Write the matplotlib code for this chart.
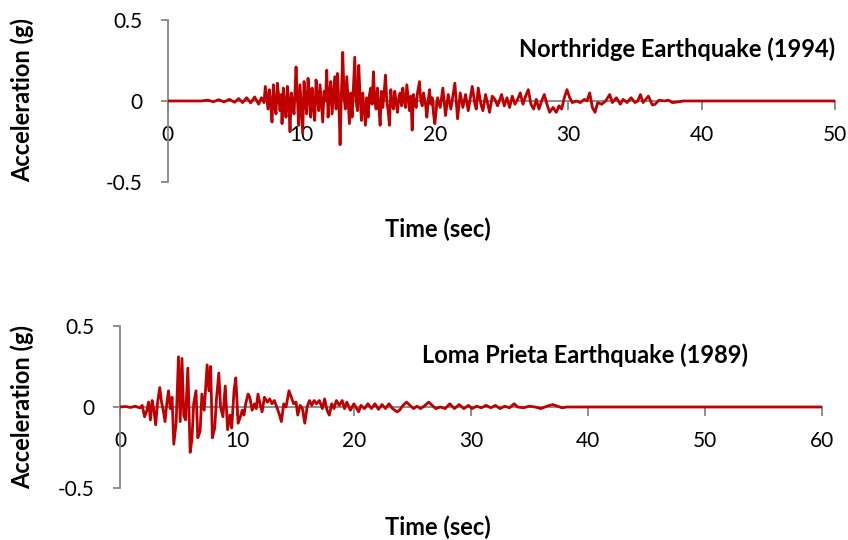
import matplotlib

matplotlib.use("Agg")
import matplotlib.pyplot as plt

plt.rcParams["font.family"] = ["Lato", "DejaVu Sans"]

# Northridge Earthquake (1994) - time (sec) and acceleration (g)
nr_time = [
    0, 2.5, 3.0, 3.4, 3.8, 4.2, 4.6, 5.0, 5.3, 5.6,
    5.9, 6.2, 6.5, 6.8, 7.0,
    # strong shaking
    7.2, 7.3, 7.4, 7.5, 7.6, 7.7, 7.8, 7.9, 8.0, 8.1,
    8.2, 8.3, 8.4, 8.5, 8.55, 8.65, 8.75, 8.85, 8.95, 9.05,
    9.15, 9.25, 9.35, 9.45, 9.6, 9.7, 9.8, 9.9, 10.0, 10.1,
    10.2, 10.3, 10.4, 10.5, 10.6, 10.7, 10.8, 10.9, 11.0, 11.1,
    11.2, 11.3, 11.4, 11.5, 11.6, 11.7, 11.8, 11.9, 12.0, 12.1,
    12.2, 12.3, 12.4, 12.5, 12.6, 12.7, 12.8, 12.9, 13.0, 13.1,
    13.2, 13.3, 13.4, 13.5, 13.6, 13.7, 13.8, 13.9, 14.0, 14.1,
    14.2, 14.3, 14.4, 14.5, 14.6, 14.7, 14.8, 14.9, 15.0, 15.1,
    15.2, 15.3, 15.4, 15.5, 15.6, 15.7, 15.8, 15.9, 16.0, 16.1,
    16.2, 16.3, 16.4, 16.5, 16.6, 16.7, 16.8, 16.9, 17.0, 17.1,
    17.2, 17.3, 17.4, 17.5, 17.6, 17.7, 17.8, 17.9, 18.0, 18.1,
    18.2, 18.3, 18.4, 18.5, 18.6, 18.7, 18.85, 18.95, 19.05, 19.15,
    19.3, 19.4, 19.5, 19.6, 19.7, 19.8, 19.9, 20.0,
    # coda
    20.2, 20.4, 20.6, 20.8, 21.0, 21.2, 21.5, 21.7, 21.9, 22.1, 22.3, 22.5,
    22.8, 23.0, 23.1, 23.25, 23.45, 23.6, 23.8, 24.1, 24.3, 24.5, 24.7, 25.0,
    25.2, 25.4, 25.6, 25.8, 26.0, 26.2, 26.4, 26.6, 26.8, 27.0, 27.2, 27.4,
    27.6, 27.8, 28.0, 28.2, 28.4, 28.6, 28.85, 29.1, 29.3, 29.5, 29.7, 29.9,
    30.1, 30.3, 30.6, 30.9, 31.2, 31.4, 31.6, 31.8, 32.0, 32.2, 32.5, 32.8,
    33.1, 33.3, 33.6, 33.9, 34.1, 34.4, 34.7, 35.0, 35.2, 35.4, 35.6, 36.0,
    36.3, 36.5, 36.8, 37.2, 37.5, 37.8, 38.3, 38.6, 50,
]
nr_accel = [
    0, 0, 0.005, -0.005, 0.008, -0.006, 0.01, -0.008, 0.015, -0.01,
    0.02, -0.012, 0.025, -0.02, 0.02,
    -0.01, 0.09, 0.02, -0.05, 0.07, -0.02, -0.13, 0.1, -0.03, -0.08,
    0.11, 0.03, -0.06, 0.04, -0.14, 0.08, -0.03, -0.1, 0.09, 0.0,
    -0.19, 0.05, -0.02, -0.08, 0.21, 0.02, -0.15, 0.1, -0.05, -0.2,
    0.12, 0.0, -0.08, 0.14, 0.03, -0.1, 0.08, -0.04, -0.12, 0.13,
    0.02, -0.06, 0.1, -0.02, -0.13, 0.06, 0.0, 0.19, -0.1, 0.05,
    0.12, -0.08, 0.04, 0.15, -0.05, 0.17, 0.02, -0.27, 0.05, 0.3,
    0.02, -0.05, 0.15, 0.0, -0.14, 0.05, -0.1, 0.08, 0.27, 0.0,
    -0.06, 0.22, 0.02, -0.12, 0.05, -0.05, -0.15, 0.02, -0.1, 0.04,
    0.08, -0.02, 0.18, 0.0, -0.05, 0.08, -0.03, -0.15, 0.06, -0.04,
    0.05, 0.16, 0.0, -0.06, -0.15, 0.07, -0.02, -0.05, 0.06, -0.01,
    -0.07, 0.02, 0.05, -0.03, 0.08, 0.0, -0.04, 0.1, 0.02, -0.06,
    0.03, -0.18, 0.04, -0.01, -0.04, 0.05, 0.12, 0.0, -0.03, 0.05,
    -0.02, -0.1, 0.0, 0.07, -0.02, 0.02, -0.08, -0.14,
    0.02, -0.04, 0.08, -0.09, 0.04, -0.05, 0.11, -0.11, 0.05, -0.04, 0.04, -0.06,
    0.09, -0.02, -0.05, 0.08, -0.02, -0.06, 0.04, -0.07, 0.03, 0.01, -0.03, 0.04,
    -0.03, 0.02, -0.04, 0.03, -0.02, 0.01, 0.05, -0.02, 0.03, 0.07, -0.02, -0.05,
    0.01, -0.05, 0.0, 0.04, -0.02, -0.07, -0.04, -0.07, -0.03, -0.05, 0.02, 0.07,
    0.02, -0.01, 0.0, -0.01, 0.01, 0.0, 0.05, -0.04, -0.07, -0.01, -0.02, 0.0,
    0.04, -0.01, 0.02, -0.02, 0.01, -0.01, 0.02, -0.01, 0.0, 0.04, -0.01, 0.03,
    -0.025, -0.02, 0.005, 0.0, 0.005, -0.01, -0.005, 0.0, 0,
]

# Loma Prieta Earthquake (1989)
lp_time = [
    0, 0.5, 0.9, 1.3, 1.7, 1.9, 2.1, 2.3, 2.45, 2.6, 2.75, 2.9, 3.05, 3.2, 3.4,
    3.55, 3.7, 3.85, 4.0, 4.15, 4.3, 4.45, 4.6, 4.8, 5.0, 5.15, 5.3, 5.45, 5.6,
    5.8, 6.0, 6.15, 6.3, 6.5, 6.65, 6.85, 7.0, 7.2, 7.45, 7.6, 7.75, 7.9, 8.1,
    8.25, 8.45, 8.6, 8.8, 9.0, 9.2, 9.4, 9.55, 9.75, 9.9, 10.1, 10.3, 10.45, 10.6,
    10.75, 10.95, 11.1, 11.3, 11.5, 11.65, 11.8, 12.0, 12.15, 12.35, 12.6, 12.8,
    13.0, 13.2, 13.4, 13.6, 13.8, 14.0, 14.2, 14.45, 14.65, 14.85, 15.05, 15.2,
    15.4, 15.6, 15.8, 16.0, 16.2, 16.4, 16.6, 16.8, 17.05, 17.3, 17.5, 17.7,
    17.9, 18.1, 18.3, 18.5, 18.75, 19.0, 19.2, 19.4, 19.7, 20.0, 20.2, 20.4,
    20.6, 20.9, 21.2, 21.5, 21.8, 22.1, 22.4, 22.7, 23.0, 23.3, 23.7, 23.9, 24.2,
    24.5, 24.8, 25.1, 25.4, 25.7, 26.0, 26.4, 26.7, 27.0, 27.4, 27.8, 28.2, 28.6,
    29.0, 29.4, 29.8, 30.1, 30.5, 30.9, 31.3, 31.7, 32.1, 32.5, 32.9, 33.3, 33.7,
    34.0, 34.5, 35.0, 35.5, 36.0, 36.5, 37.0, 37.4, 37.8, 38.2, 38.5, 60,
]
lp_accel = [
    0, 0.003, -0.003, 0.005, -0.006, 0.01, -0.06, -0.02, 0.03, -0.08, 0.04, -0.02,
    -0.11, 0.02, 0.12, 0.03, -0.02, -0.09, 0.02, 0.1, -0.01, 0.06, -0.23, -0.1,
    0.31, -0.09, 0.3, -0.05, -0.08, 0.24, -0.28, -0.2, 0.02, 0.1, -0.19, -0.15,
    0.08, -0.02, 0.26, 0.1, 0.25, -0.19, -0.13, 0.05, 0.21, 0.0, -0.06, 0.13,
    -0.14, -0.05, -0.13, 0.1, 0.18, -0.1, -0.06, -0.02, -0.05, 0.02, 0.08, 0.06,
    -0.02, 0.02, -0.01, 0.08, 0.01, -0.03, 0.06, 0.03, 0.05, 0.02, 0.04, 0.0,
    -0.04, -0.09, 0.02, 0.0, 0.1, 0.06, 0.02, 0.03, -0.05, 0.01, -0.01, -0.1,
    0.0, 0.04, 0.01, 0.04, 0.02, 0.04, -0.01, 0.05, -0.02, -0.05, 0.02, -0.01,
    0.04, 0.01, 0.04, -0.01, 0.03, -0.02, 0.02, -0.005, -0.03, 0.01, -0.01, 0.02,
    -0.01, 0.02, -0.015, 0.015, -0.01, 0.02, -0.01, -0.03, -0.02, 0.01, 0.03,
    0.01, -0.01, 0.005, -0.01, 0.005, 0.03, 0.01, -0.01, 0.0, -0.01, 0.02, -0.01,
    0.015, -0.01, 0.01, -0.01, 0.005, -0.005, 0.01, -0.005, 0.01, -0.01, 0.005,
    -0.005, 0.02, 0.0, -0.005, 0.005, 0.0, -0.01, 0.005, 0.015, 0.005, -0.005,
    0.0, 0.0, 0,
]

line_color = "#C00000"
axis_color = "#868686"
label_size = 17

fig = plt.figure(figsize=(8.48, 5.4), dpi=100)
ax1 = fig.add_axes([0.198, 0.663, 0.787, 0.300])
ax2 = fig.add_axes([0.1415, 0.0963, 0.8275, 0.300])


def style_axes(ax, xmax, title, title_x):
    ax.set_xlim(0, xmax)
    ax.set_ylim(-0.5, 0.5)
    ax.set_yticks([-0.5, 0, 0.5])
    ax.set_yticklabels(["-0.5", "0", "0.5"])
    ax.set_xticks(range(0, xmax + 1, 10))
    for side in ["top", "right"]:
        ax.spines[side].set_visible(False)
    ax.spines["bottom"].set_position(("data", 0))
    ax.spines["bottom"].set_color(axis_color)
    ax.spines["left"].set_color(axis_color)
    ax.spines["bottom"].set_linewidth(1.3)
    ax.spines["left"].set_linewidth(1.3)
    ax.tick_params(axis="x", direction="out", length=6.5, width=1.3,
                   color=axis_color, pad=11, labelsize=15)
    ax.tick_params(axis="y", direction="out", length=5, width=1.3,
                   color=axis_color, pad=13, labelsize=15)
    ax.set_xlabel("Time (sec)", fontsize=label_size, fontweight="bold")
    ax.text(title_x, 0.82, title, transform=ax.transAxes, ha="right",
            va="center", fontsize=label_size, fontweight="bold")
    ax.patch.set_alpha(0)


ax1.plot(nr_time, nr_accel, color=line_color, linewidth=2.0, zorder=3)
ax2.plot(lp_time, lp_accel, color=line_color, linewidth=2.0, zorder=3)

style_axes(ax1, 50, "Northridge Earthquake (1994)", 1.0)
style_axes(ax2, 60, "Loma Prieta Earthquake (1989)", 0.895)

# x labels sit well below the zero-crossing axis
ax1.xaxis.set_label_coords(0.405, -0.22)
ax2.xaxis.set_label_coords(0.453, -0.17)

fig.text(0.026, 0.815, "Acceleration (g)", rotation=90, ha="center",
         va="center", fontsize=label_size, fontweight="bold")
fig.text(0.026, 0.247, "Acceleration (g)", rotation=90, ha="center",
         va="center", fontsize=label_size, fontweight="bold")

plt.savefig("out.png", dpi=100)
